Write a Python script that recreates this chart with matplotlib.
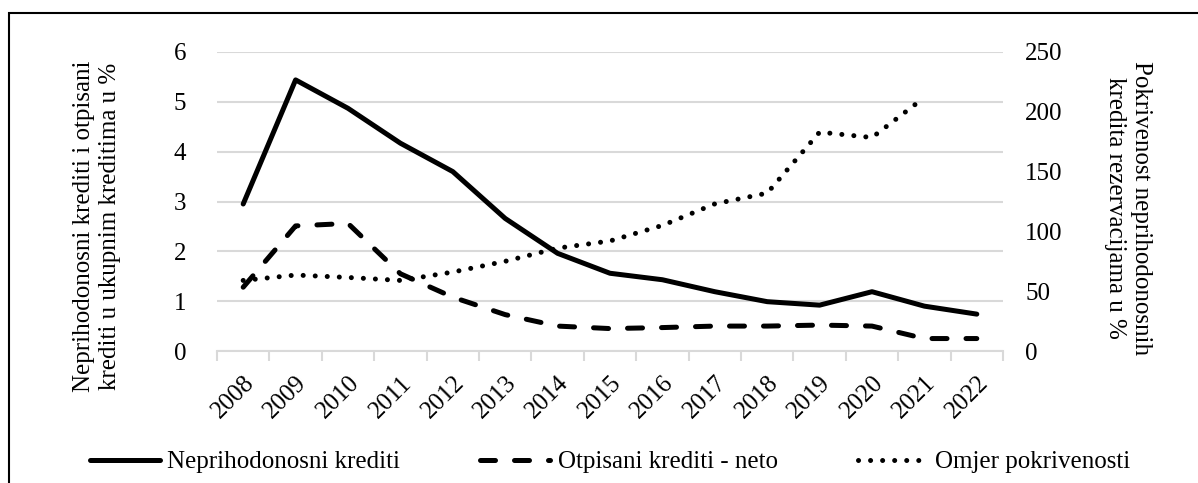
import matplotlib.pyplot as plt
import numpy as np

plt.rcParams['font.family'] = ['Liberation Serif', 'DejaVu Serif']

godine = ['2008', '2009', '2010', '2011', '2012', '2013', '2014', '2015',
          '2016', '2017', '2018', '2019', '2020', '2021', '2022']
neprihodonosni = [2.95, 5.44, 4.87, 4.17, 3.60, 2.66, 1.96, 1.56, 1.43, 1.19, 0.99, 0.92, 1.19, 0.90, 0.74]
otpisani = [1.28, 2.51, 2.56, 1.55, 1.08, 0.73, 0.50, 0.45, 0.47, 0.50, 0.50, 0.52, 0.50, 0.25, 0.25]
pokrivenost = [59, 63.5, 61.5, 59, 66, 75, 86, 92, 105, 123, 132, 183, 178.5, 212, np.nan]

fig = plt.figure(figsize=(11.98, 4.83), dpi=100)
ax = fig.add_axes([217/1198, 1-351/483, (1003-217)/1198, 299/483])
ax2 = ax.twinx()

x = np.arange(len(godine))
l1, = ax.plot(x, neprihodonosni, color='black', lw=3.6, solid_capstyle='round',
              label='Neprihodonosni krediti', zorder=3)
l2, = ax.plot(x, otpisani, color='black', lw=3.6, ls=(0, (3.0, 3.8)),
              dash_capstyle='round', label='Otpisani krediti - neto', zorder=3)
l3, = ax2.plot(x, pokrivenost, color='black', lw=3.6, ls=(0, (0.01, 2.4)),
               dash_capstyle='round', label='Omjer pokrivenosti', zorder=3)

ax.set_xlim(-0.5, len(godine) - 0.5)
ax.set_ylim(0, 6)
ax2.set_ylim(0, 250)
ax.set_yticks(range(0, 7))
ax2.set_yticks(range(0, 251, 50))

ax.grid(axis='y', color='#d9d9d9', lw=1.5)
ax.set_axisbelow(True)
for a in (ax, ax2):
    for s in a.spines.values():
        s.set_visible(False)
ax.spines['bottom'].set_visible(True)
ax.spines['bottom'].set_color('#d9d9d9')
ax.spines['bottom'].set_linewidth(1.5)

ax.set_xticks(x)
ax.set_xticklabels(godine, rotation=45, ha='right', va='top', rotation_mode='anchor')
ax.set_xticks(np.arange(-0.5, len(godine)), minor=True)
ax.tick_params(axis='x', which='major', length=0, labelsize=18, pad=15)
ax.tick_params(axis='x', which='minor', length=7, width=1.5, color='#d9d9d9')
ax.tick_params(axis='y', length=0, labelsize=18, pad=22)
ax2.tick_params(axis='y', length=0, labelsize=18, pad=16)

ax.set_ylabel('Neprihodonosni krediti i otpisani\nkrediti u ukupnim kreditima u %',
              fontsize=18, linespacing=1.25)
ax.yaxis.set_label_coords((121 - 217) / 786, (351 - 226) / 299)
ax2.set_ylabel('Pokrivenost neprihodonosnih\nkredita rezervacijama u %',
               fontsize=18, linespacing=1.25, rotation=-90, va='bottom')
ax2.yaxis.set_label_coords((1104 - 217) / 786, (351 - 208) / 299)

fig.legend(handles=[l1, l2, l3], loc='center', bbox_to_anchor=(610/1198, 1-462/483),
           ncol=3, frameon=False, fontsize=18, handlelength=2.8, handletextpad=0.3,
           columnspacing=3.2, borderaxespad=0)

fig.patches.append(plt.Rectangle((9/1198, -0.1), 1.2, 1-13/483 + 0.1,
                                 transform=fig.transFigure, fill=False,
                                 edgecolor='black', lw=1.5, zorder=10))

fig.savefig('out.png', dpi=100)
